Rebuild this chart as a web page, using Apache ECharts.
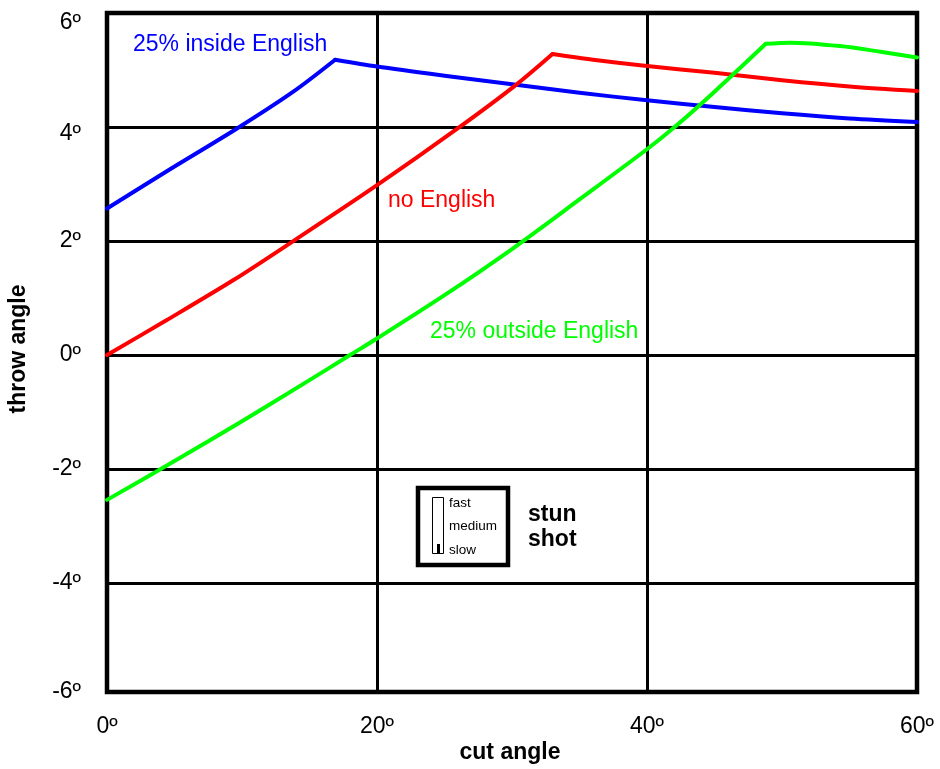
<!DOCTYPE html>
<html>
<head>
<meta charset="utf-8">
<script src="https://cdn.jsdelivr.net/npm/echarts@6/dist/echarts.min.js"></script>
<style>
  html, body { margin: 0; padding: 0; background: #fff; }
  #chart { width: 940px; height: 769px; }
</style>
</head>
<body>
<div id="chart"></div>
<script>
// Throw angle (degrees) against cut angle (degrees) for a stun shot
const xTicks = [0, 20, 40, 60];
const yTicks = [-6, -4, -2, 0, 2, 4, 6];

// [cut angle, throw angle]; each curve rises to a corner and then falls
const insideRise = [
  [0, 2.57], [4.4, 3.22], [9.6, 3.97], [13.8, 4.62], [16.9, 5.18]
];
const insideFall = [
  [16.9, 5.18], [20, 5.06], [25, 4.90], [30, 4.75], [35, 4.60], [40, 4.47],
  [45, 4.35], [50, 4.24], [55, 4.15], [60, 4.09]
];
const noRise = [
  [0, 0], [4.4, 0.61], [9.4, 1.32], [13.8, 2.0], [20, 2.98],
  [26, 3.98], [30.3, 4.74], [33, 5.28]
];
const noFall = [
  [33, 5.28], [36, 5.18], [40, 5.07], [45, 4.95], [50, 4.82], [55, 4.71], [60, 4.63]
];
const outsideRise = [
  [0, -2.54], [5, -1.86], [10, -1.16], [15, -0.44], [18, 0], [20, 0.29],
  [25, 1.05], [30, 1.86], [35, 2.73], [40, 3.61], [42, 3.99],
  [45, 4.62], [48.8, 5.46]
];
const outsideFall = [
  [48.8, 5.46], [50.6, 5.48], [54.3, 5.42], [57.3, 5.32], [60, 5.22]
];

const seriesNames = ['25% inside English', 'no English', '25% outside English'];
const seriesColors = ['#0000ff', '#ff0000', '#00ff00'];
const seriesParts = [[insideRise, insideFall], [noRise, noFall], [outsideRise, outsideFall]];

const FONT = '"Liberation Sans", Arial, sans-serif';

const chart = echarts.init(document.getElementById('chart'), null, { renderer: 'canvas' });

const series = [];
seriesParts.forEach((parts, i) => {
  parts.forEach(d => {
    series.push({
      name: seriesNames[i],
      type: 'line',
      data: d,
      showSymbol: false,
      smooth: 0.3,
      lineStyle: { color: seriesColors[i], width: 4, cap: 'round', join: 'round' },
      z: 3
    });
  });
});

const option = {
  animation: false,
  backgroundColor: '#ffffff',
  grid: {
    left: 107, right: 23, top: 13, bottom: 77,
    show: true, borderColor: '#000', borderWidth: 4.5, backgroundColor: 'transparent'
  },
  xAxis: {
    type: 'value',
    min: xTicks[0], max: xTicks[xTicks.length - 1], interval: 20,
    axisLine: { show: false },
    axisTick: { show: false },
    splitLine: { show: true, lineStyle: { color: '#000', width: 3 } },
    axisLabel: {
      margin: 23, color: '#000', fontFamily: FONT, fontSize: 23,
      formatter: v => v + 'º'
    }
  },
  yAxis: {
    type: 'value',
    // the frame's lower edge sits just above -6
    min: -5.91, max: yTicks[yTicks.length - 1], splitNumber: 6,
    axisLine: { show: false },
    axisTick: { show: false },
    splitLine: { show: true, lineStyle: { color: '#000', width: 3 } },
    axisLabel: {
      margin: 26, color: '#000', fontFamily: FONT, fontSize: 23,
      formatter: v => {
        const r = Math.round(v);
        const key = r >= 6 ? 'top' : r >= 4 ? 'upper' : 'mid';
        return '{' + key + '|' + r + 'º}';
      },
      rich: {
        top: { fontSize: 23, fontFamily: FONT, color: '#000', padding: [20, 0, 0, 0] },
        upper: { fontSize: 23, fontFamily: FONT, color: '#000', padding: [13, 0, 0, 0] },
        mid: { fontSize: 23, fontFamily: FONT, color: '#000' }
      }
    }
  },
  series: series,
  graphic: [
    // axis titles
    { type: 'text', x: 19, y: 349, rotation: Math.PI / 2, z: 10,
      style: { text: 'throw angle', font: 'bold 23px ' + FONT, fill: '#000', align: 'center', verticalAlign: 'middle' } },
    { type: 'text', x: 510, y: 753, z: 10,
      style: { text: 'cut angle', font: 'bold 23px ' + FONT, fill: '#000', align: 'center', verticalAlign: 'middle' } },
    // curve labels
    { type: 'text', x: 133, y: 45, z: 10,
      style: { text: seriesNames[0], font: '23px ' + FONT, fill: seriesColors[0], align: 'left', verticalAlign: 'middle' } },
    { type: 'text', x: 388, y: 201, z: 10,
      style: { text: seriesNames[1], font: '23px ' + FONT, fill: seriesColors[1], align: 'left', verticalAlign: 'middle' } },
    { type: 'text', x: 430, y: 332, z: 10,
      style: { text: seriesNames[2], font: '23px ' + FONT, fill: seriesColors[2], align: 'left', verticalAlign: 'middle' } },
    // speed gauge box
    { type: 'rect', z: 10, shape: { x: 418, y: 488, width: 90, height: 77 },
      style: { fill: '#fff', stroke: '#000', lineWidth: 4.5 } },
    { type: 'rect', z: 11, shape: { x: 432.5, y: 497.5, width: 11, height: 56 },
      style: { fill: '#fff', stroke: '#000', lineWidth: 1 } },
    { type: 'rect', z: 12, shape: { x: 437, y: 544, width: 3, height: 9.5 },
      style: { fill: '#000' } },
    { type: 'text', x: 449, y: 503, z: 12,
      style: { text: 'fast', font: '13.5px ' + FONT, fill: '#000', align: 'left', verticalAlign: 'middle' } },
    { type: 'text', x: 449, y: 526, z: 12,
      style: { text: 'medium', font: '13.5px ' + FONT, fill: '#000', align: 'left', verticalAlign: 'middle' } },
    { type: 'text', x: 449, y: 550, z: 12,
      style: { text: 'slow', font: '13.5px ' + FONT, fill: '#000', align: 'left', verticalAlign: 'middle' } },
    { type: 'text', x: 528, y: 515, z: 10,
      style: { text: 'stun', font: 'bold 23px ' + FONT, fill: '#000', align: 'left', verticalAlign: 'middle' } },
    { type: 'text', x: 528, y: 540, z: 10,
      style: { text: 'shot', font: 'bold 23px ' + FONT, fill: '#000', align: 'left', verticalAlign: 'middle' } }
  ]
};

chart.setOption(option);
</script>
</body>
</html>
